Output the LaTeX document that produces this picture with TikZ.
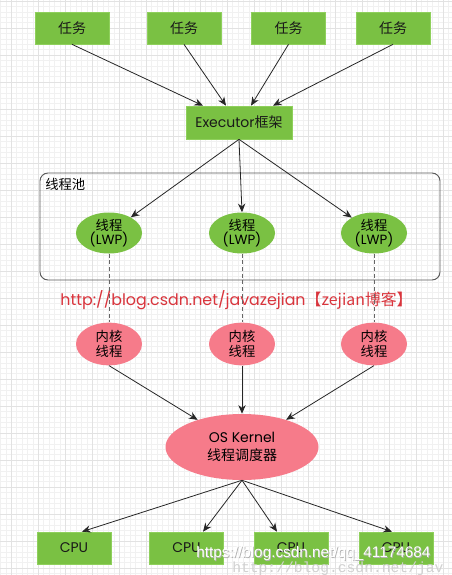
\documentclass[tikz,border=0pt]{standalone}
\usepackage{fontspec}
\setmainfont{Poppins}
\newfontfamily\cjk{Noto Sans CJK SC}
\newfontfamily\wmsans{Liberation Sans}
\newfontfamily\wmmono{Liberation Mono}
\usetikzlibrary{shapes.geometric,arrows.meta,calc}
\definecolor{boxgreen}{HTML}{7AC143}
\definecolor{boxedge}{HTML}{8FD05C}
\definecolor{kpink}{HTML}{F67B8A}
\definecolor{urlred}{HTML}{D9343C}
\definecolor{gridminor}{HTML}{F1F1F1}
\definecolor{gridmajor}{HTML}{E2E2E2}
\tikzset{
  greenbox/.style={rectangle, fill=boxgreen, draw=boxedge, line width=0.5pt,
    minimum width=55.5pt, minimum height=24pt, inner sep=0pt, font=\fontsize{10.5}{12}\selectfont, text=black!90},
  lwp/.style={ellipse, fill=boxgreen, draw=none, minimum width=49.5pt, minimum height=30.75pt,
    inner sep=0pt, align=center, font=\fontsize{10}{11}\selectfont},
  kern/.style={ellipse, fill=kpink, draw=none, minimum width=49.5pt, minimum height=32pt,
    inner sep=0pt, align=center, font=\fontsize{10}{11.5}\selectfont},
  arr/.style={-{Stealth[length=6.5pt,width=5.5pt]}, line width=0.6pt, draw=black!85},
  dashline/.style={dashed, dash pattern=on 3pt off 2pt, line width=0.6pt, draw=black!60},
}
\begin{document}
\begin{tikzpicture}[x=0.75pt,y=-0.75pt]
\useasboundingbox (0,0) rectangle (452,575);
\fill[white] (0,0) rectangle (452,575);
% grid
\foreach \i in {0,...,84} {
  \draw[gridminor, line width=0.3pt] ({0.4+5.4*\i},0) -- ({0.4+5.4*\i},575);
}
\foreach \i in {0,...,107} {
  \draw[gridminor, line width=0.3pt] (0,{1+5.4*\i}) -- (452,{1+5.4*\i});
}
\foreach \i in {0,...,16} {
  \draw[gridmajor, line width=0.4pt] ({11+27*\i},0) -- ({11+27*\i},575);
}
\foreach \i in {0,...,21} {
  \draw[gridmajor, line width=0.4pt] (0,{1+27*\i}) -- (452,{1+27*\i});
}

% pool frame
\draw[black!65, line width=0.7pt, rounded corners=6pt] (40,173) rectangle (440,280);
\node[anchor=north west, inner sep=0pt, font=\cjk\fontsize{10}{12}\selectfont] (pool) at (45,178) {线程池};

% tasks
\node[greenbox] (t1) at (72,28) {\cjk 任务};
\node[greenbox] (t2) at (184,28) {\cjk 任务};
\node[greenbox] (t3) at (288.5,28) {\cjk 任务};
\node[greenbox] (t4) at (393,28) {\cjk 任务};

% executor
\node[greenbox, minimum width=79.5pt, minimum height=24.75pt] (ex) at (239,122.5) {Executor{\cjk 框架}};

% LWP
\node[lwp] (l1) at (109,233) {{\cjk 线程}\\(LWP)};
\node[lwp] (l2) at (242,233) {{\cjk 线程}\\(LWP)};
\node[lwp] (l3) at (374,233) {{\cjk 线程}\\(LWP)};

% kernel threads
\node[kern] (k1) at (109,344) {\cjk 内核\\\cjk 线程};
\node[kern] (k2) at (242,344) {\cjk 内核\\\cjk 线程};
\node[kern] (k3) at (374,344) {\cjk 内核\\\cjk 线程};

% OS kernel
\node[ellipse, fill=kpink, minimum width=114.75pt, minimum height=49.5pt, inner sep=0pt,
  align=center, font=\fontsize{10.5}{13}\selectfont] (os) at (242,447) {OS Kernel\\{\cjk 线程调度器}};

% CPUs
\node[greenbox] (c1) at (74,548) {CPU};
\node[greenbox] (c2) at (186.5,548) {CPU};
\node[greenbox] (c3) at (291,548) {CPU};
\node[greenbox] (c4) at (396,548) {CPU};

% URL text
\node[text=urlred, inner sep=0pt, font=\fontsize{11.9}{13}\selectfont] (url) at (236.5,300)
  {http://blog.csdn.net/javazejian{\cjk 【zejian博客】}};

% arrows tasks -> executor
\draw[arr] (t1.south) -- ([xshift=-27pt]ex.north);
\draw[arr] (t2.south) -- ([xshift=-9.75pt]ex.north);
\draw[arr] (t3.south) -- ([xshift=9pt]ex.north);
\draw[arr] (t4.south) -- ([xshift=25.5pt]ex.north);

% executor -> LWP
\draw[arr] (ex.south) -- (l1);
\draw[arr] (ex.south) -- (l2.north);
\draw[arr] (ex.south) -- (l3);

% dashed LWP -> kernel
\draw[dashline] (l1.south) -- (k1.north);
\draw[dashline] (l2.south) -- (k2.north);
\draw[dashline] (l3.south) -- (k3.north);

% kernel -> OS
\draw[arr] (k1.south) -- (os);
\draw[arr] (k2.south) -- (os.north);
\draw[arr] (k3.south) -- (os);

% OS -> CPUs
\draw[arr] (os.south) -- ([xshift=6pt]c1.north);
\draw[arr] (os.south) -- ([xshift=12.4pt]c2.north);
\draw[arr] (os.south) -- ([xshift=-10.5pt]c3.north);
\draw[arr] (os.south) -- ([xshift=-3pt]c4.north);

% watermarks
\node[anchor=west, inner sep=0pt, text=black!18, font=\wmmono\fontsize{11}{12}\selectfont] (wm2) at (232,569) {http://blog.csdn.net/jav};
\node[anchor=west, inner sep=0pt, text=black!30, font=\wmsans\fontsize{11.5}{13}\selectfont] (wm1s) at (196.8,554.8) {https://blog.csdn.net/qq\_41174684};
\node[anchor=west, inner sep=0pt, text=white, font=\wmsans\fontsize{11.5}{13}\selectfont] (wm1) at (196,554) {https://blog.csdn.net/qq\_41174684};
\end{tikzpicture}
\end{document}
